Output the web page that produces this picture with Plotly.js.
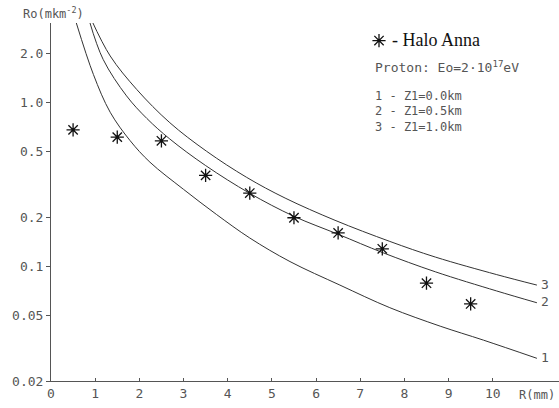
<!DOCTYPE html>
<html>
<head>
<meta charset="utf-8">
<script src="https://cdn.plot.ly/plotly-3.0.1.min.js"></script>
<style>html,body{margin:0;padding:0;background:#fff;}#chart{width:559px;height:408px;}</style>
</head>
<body>
<div id="chart"></div>
<script>
// Measured data (Halo Anna)
const haloR = [0.5, 1.5, 2.5, 3.5, 4.5, 5.5, 6.5, 7.5, 8.5, 9.5];
const haloRho = [0.68, 0.614, 0.583, 0.359, 0.280, 0.198, 0.160, 0.128, 0.079, 0.059];

// Curve 1: Z1 = 0.0 km
const curve1R = [0.57, 0.96, 1.34, 1.79, 2.24, 3.0, 3.75, 4.5, 5.41, 6.54, 7.67, 8.81, 9.79, 11.0];
const curve1Rho = [3.07, 1.48, 0.871, 0.585, 0.432, 0.295, 0.207, 0.149, 0.107, 0.0769, 0.056, 0.0432, 0.0355, 0.0275];

// Curve 2: Z1 = 0.5 km
const curve2R = [0.87, 1.18, 1.71, 2.17, 2.69, 3.5, 4.5, 5.5, 6.5, 7.52, 8.7, 10.09, 11.0];
const curve2Rho = [3.13, 1.83, 1.096, 0.798, 0.598, 0.412, 0.279, 0.202, 0.157, 0.121, 0.0927, 0.0708, 0.060];

// Curve 3: Z1 = 1.0 km
const curve3R = [0.92, 1.34, 1.94, 2.69, 3.52, 4.43, 5.3, 6.43, 7.67, 8.7, 10.09, 11.0];
const curve3Rho = [3.17, 1.92, 1.20, 0.752, 0.504, 0.349, 0.261, 0.191, 0.142, 0.114, 0.0891, 0.0769];

const curveLabels = ['1', '2', '3'];
const legendLines = ['1 - Z1=0.0km', '2 - Z1=0.5km', '3 - Z1=1.0km'];

const xTicks = [0,1,2,3,4,5,6,7,8,9,10];
const yTicks = [0.02, 0.05, 0.1, 0.2, 0.5, 1.0, 2.0];
const yTickText = ['0.02', '0.05', '0.1', '0.2', '0.5', '1.0', '2.0'];

const W = 559, H = 408;
const M = {l: 51, r: 0, t: 23, b: 27};
const pw = W - M.l - M.r, ph = H - M.t - M.b;
const px = x => (x - M.l) / pw;
const py = y => (H - M.b - y) / ph;

const mono = 'DejaVu Sans Mono, monospace';
const grey = '#555';
const lineStyle = {color: '#333', width: 1, shape: 'spline', smoothing: 1};

const traces = [
  {x: curve1R, y: curve1Rho, mode: 'lines', line: lineStyle, showlegend: false, hoverinfo: 'skip'},
  {x: curve2R, y: curve2Rho, mode: 'lines', line: lineStyle, showlegend: false, hoverinfo: 'skip'},
  {x: curve3R, y: curve3Rho, mode: 'lines', line: lineStyle, showlegend: false, hoverinfo: 'skip'},
  {x: haloR, y: haloRho, mode: 'markers', name: ' ',
   marker: {symbol: 'asterisk-open', size: 11, color: '#111', line: {color: '#111', width: 1.3}},
   showlegend: true}
];

const annotations = [];
[[curve1R, curve1Rho], [curve2R, curve2Rho], [curve3R, curve3Rho]].forEach(([xs, ys], i) => {
  annotations.push({x: xs[xs.length - 1], y: Math.log10(ys[ys.length - 1]), xref: 'x', yref: 'y',
    text: curveLabels[i], showarrow: false, xanchor: 'left', xshift: 2, yshift: 1,
    font: {family: mono, size: 13, color: grey}});
});
annotations.push({x: px(21), y: py(13), xref: 'paper', yref: 'paper', xanchor: 'left', yanchor: 'middle',
  text: 'Ro(mkm<sup>-2</sup>)', showarrow: false, font: {family: mono, size: 12, color: grey}});
annotations.push({x: px(557), y: py(395), xref: 'paper', yref: 'paper', xanchor: 'right', yanchor: 'middle',
  text: 'R(mm)', showarrow: false, font: {family: mono, size: 12, color: grey}});
annotations.push({x: px(390), y: py(40), xref: 'paper', yref: 'paper', xanchor: 'left', yanchor: 'middle',
  text: '- Halo Anna', showarrow: false, font: {family: 'Liberation Serif, serif', size: 18, color: '#111'}});
annotations.push({x: px(373), y: py(67), xref: 'paper', yref: 'paper', xanchor: 'left', yanchor: 'middle',
  text: 'Proton: Eo=2·10<sup>17</sup>eV', showarrow: false, font: {family: mono, size: 13, color: grey}});
legendLines.forEach((t, i) => {
  annotations.push({x: px(373), y: py(96 + i * 15.5), xref: 'paper', yref: 'paper', xanchor: 'left', yanchor: 'middle',
    text: t, showarrow: false, font: {family: mono, size: 12, color: grey}});
});

const layout = {
  width: W, height: H,
  margin: M,
  paper_bgcolor: '#fff', plot_bgcolor: '#fff',
  showlegend: true,
  legend: {x: px(359), y: py(23), xanchor: 'left', yanchor: 'top', bgcolor: 'rgba(0,0,0,0)',
    font: {family: 'Liberation Serif, serif', size: 17, color: '#111'}, itemwidth: 30},
  xaxis: {range: [0, 11.5], tickvals: xTicks, ticktext: xTicks.map(String),
    showgrid: false, zeroline: false, showline: true, linecolor: grey, linewidth: 1,
    ticks: 'inside', ticklen: 3, tickcolor: grey, tickfont: {family: mono, size: 13, color: grey}},
  yaxis: {type: 'log', range: [Math.log10(0.02), Math.log10(3.05)], tickvals: yTicks, ticktext: yTickText,
    showgrid: false, zeroline: false, showline: true, linecolor: grey, linewidth: 1,
    ticks: 'outside', ticklen: 4, tickcolor: grey, tickfont: {family: mono, size: 13, color: grey}},
  annotations: annotations
};

Plotly.newPlot('chart', traces, layout, {staticPlot: true, displayModeBar: false});
</script>
</body>
</html>
